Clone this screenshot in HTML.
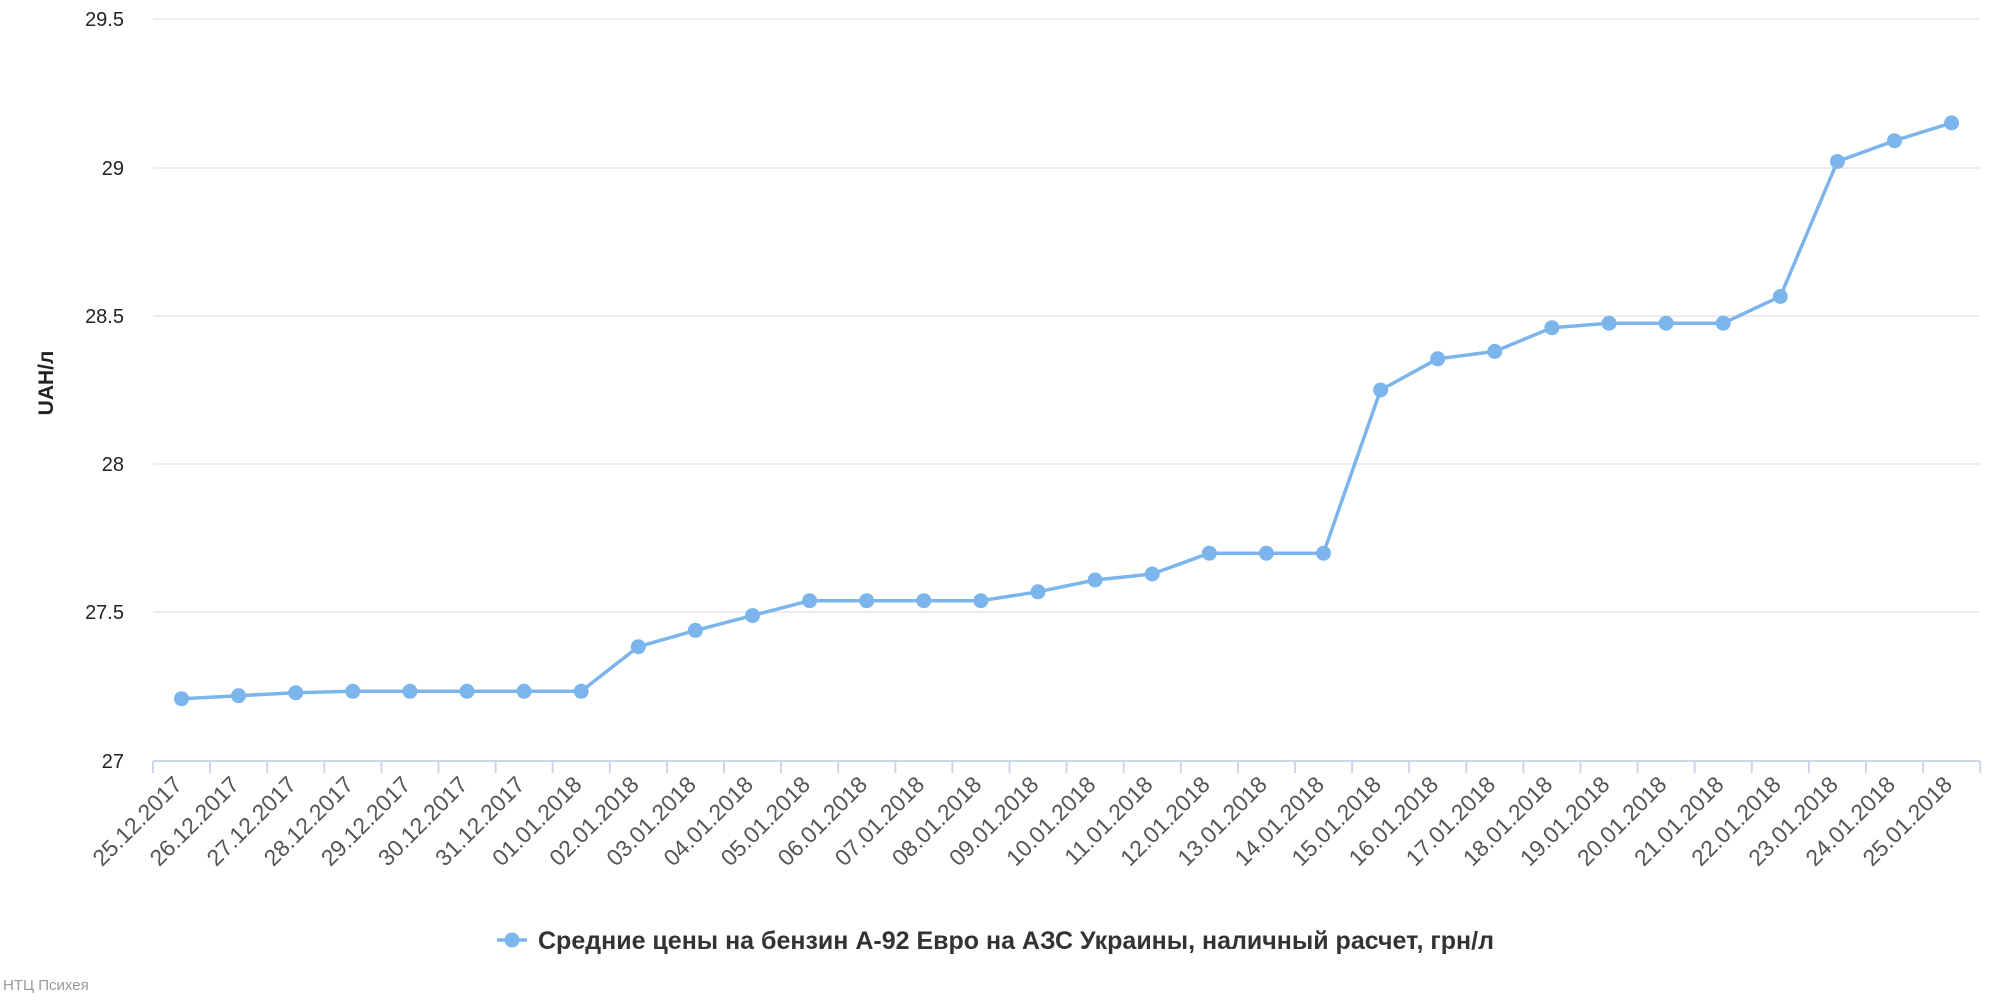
<!DOCTYPE html>
<html><head><meta charset="utf-8"><style>
html,body{margin:0;padding:0;background:#fff;}
svg{display:block;font-family:"Liberation Sans","DejaVu Sans",sans-serif;}
</style></head><body>
<svg width="2000" height="1000" viewBox="0 0 2000 1000" xmlns="http://www.w3.org/2000/svg">
<g stroke="#e6e6e6" stroke-width="1.5">
<line x1="153" y1="19" x2="1980" y2="19"/>
<line x1="153" y1="168" x2="1980" y2="168"/>
<line x1="153" y1="316" x2="1980" y2="316"/>
<line x1="153" y1="464" x2="1980" y2="464"/>
<line x1="153" y1="612" x2="1980" y2="612"/>
</g>
<line x1="153" y1="761" x2="1980" y2="761" stroke="#ccd6eb" stroke-width="2"/>
<g stroke="#ccd6eb" stroke-width="2" id="ticks"></g>
<g font-size="20" fill="#222" text-anchor="end">
<text x="124" y="26">29.5</text>
<text x="124" y="175">29</text>
<text x="124" y="323">28.5</text>
<text x="124" y="471">28</text>
<text x="124" y="619">27.5</text>
<text x="124" y="768">27</text>
</g>
<text transform="translate(53,383) rotate(-90)" font-size="21" font-weight="bold" fill="#222" text-anchor="middle">UAH/л</text>
<g id="xl" font-size="23" fill="#555" text-anchor="end"></g>
<polyline fill="none" stroke="#7cb5ec" stroke-width="3.5" stroke-linejoin="round" points="181.5,698.7 238.6,695.7 295.7,692.7 352.8,691.3 409.9,691.3 467,691.3 524.1,691.3 581.2,691.3 638.3,646.7 695.4,630.4 752.5,615.6 809.6,600.7 866.7,600.7 923.8,600.7 980.9,600.7 1038,591.8 1095.1,580 1152.2,574 1209.3,553.2 1266.4,553.2 1323.5,553.2 1380.6,390 1437.7,358.8 1494.8,351.4 1551.9,327.7 1609,323.2 1666.1,323.2 1723.2,323.2 1780.3,296.5 1837.4,161.5 1894.5,140.7 1951.6,122.9"/>
<g id="pts" fill="#7cb5ec"></g>
<line x1="497" y1="940" x2="527" y2="940" stroke="#7cb5ec" stroke-width="3.5"/>
<circle cx="512" cy="940" r="7.5" fill="#7cb5ec"/>
<text x="538" y="949" font-size="25" font-weight="bold" fill="#333">Средние цены на бензин А-92 Евро на АЗС Украины, наличный расчет, грн/л</text>
<text x="3" y="990" font-size="15" fill="#999">НТЦ Психея</text>
<script>
var ys=[698.7,695.7,692.7,691.3,691.3,691.3,691.3,691.3,646.7,630.4,615.6,600.7,600.7,600.7,600.7,591.8,580,574,553.2,553.2,553.2,390,358.8,351.4,327.7,323.2,323.2,323.2,296.5,161.5,140.7,122.9];
var d=["25.12.2017","26.12.2017","27.12.2017","28.12.2017","29.12.2017","30.12.2017","31.12.2017"];
for(var i=1;i<=25;i++){d.push((i<10?"0":"")+i+".01.2018");}
var ns="http://www.w3.org/2000/svg",P=document.getElementById("pts"),X=document.getElementById("xl"),T=document.getElementById("ticks");
for(var k=0;k<=32;k++){var l=document.createElementNS(ns,"line");var x=153+57.1*k;l.setAttribute("x1",x);l.setAttribute("x2",x);l.setAttribute("y1",761);l.setAttribute("y2",773);T.appendChild(l);}
for(var i=0;i<32;i++){var cx=181.5+57.1*i;
var c=document.createElementNS(ns,"circle");c.setAttribute("cx",cx);c.setAttribute("cy",ys[i]);c.setAttribute("r",7.5);P.appendChild(c);
var t=document.createElementNS(ns,"text");t.setAttribute("transform","translate("+(cx+2)+",786) rotate(-45)");t.textContent=d[i];X.appendChild(t);}
</script>
</svg>
</body></html>
